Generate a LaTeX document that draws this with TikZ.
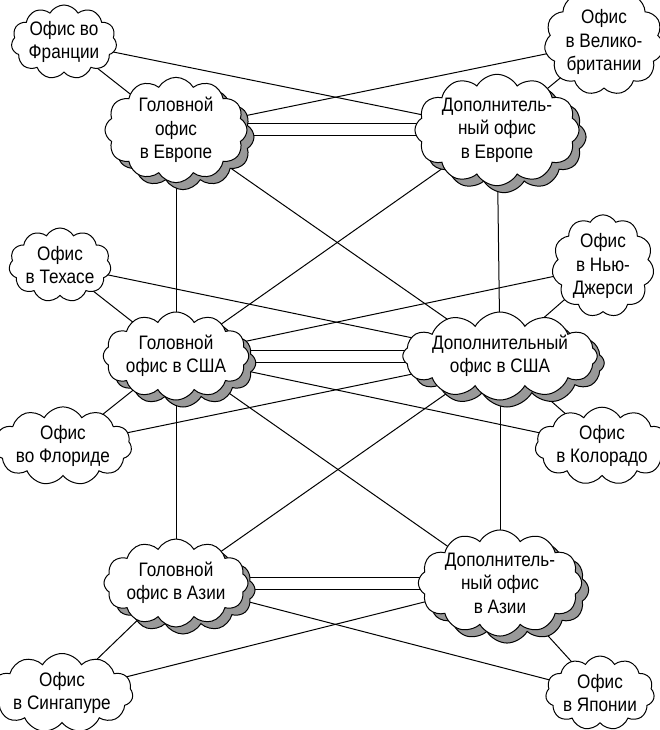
\documentclass[tikz,border=0pt]{standalone}
\usepackage{fontspec}
\setmainfont{Liberation Sans}[FakeStretch=0.88]
\usetikzlibrary{shapes.symbols, shadows, backgrounds}

\begin{document}
\begin{tikzpicture}[x=1pt, y=-1pt,
    office/.style={cloud, cloud puffs=11, cloud puff arc=120, cloud ignores aspect,
        draw, line width=1pt, fill=white, align=center, inner sep=0pt,
        minimum width=102pt, minimum height=74pt, font=\fontsize{19.5}{23.5}\selectfont},
    hq/.style={office, cloud puffs=12, minimum width=142pt, minimum height=88pt,
        copy shadow={shadow xshift=7pt, shadow yshift=-7pt, fill=black!40, draw=black, line width=1pt}},
    link/.style={line width=1pt}]

        \useasboundingbox (0,0) rectangle (659,730);

        %офисы в Европе
        \node[office] (fr) at (64,42) {Офис во\\Франции};
        \node[office, minimum height=80pt] (gb) at (604,42) {Офис\\в Велико-\\британии};
        \node[hq] (ge) at (176,130) {Головной\\офис\\в Европе};
        \node[hq] (de) at (497,130) {Дополнитель-\\ный офис\\в Европе};

        %офисы в США
        \node[office] (tx) at (60,265) {Офис\\в Техасе};
        \node[office, minimum height=80pt] (nj) at (603,266) {Офис\\в Нью-\\Джерси};
        \node[hq] (gu) at (176,356) {Головной\\офис в США};
        \node[hq, minimum width=148pt] (du) at (500,356) {Дополнительный\\офис в США};
        \node[office] (fl) at (63,446) {Офис\\во Флориде};
        \node[office] (co) at (602,446) {Офис\\в Колорадо};

        %офисы в Азии
        \node[hq] (ga) at (176,583) {Головной\\офис в Азии};
        \node[hq] (da) at (500,583) {Дополнитель-\\ный офис\\в Азии};
        \node[office] (sg) at (62,693) {Офис\\в Сингапуре};
        \node[office] (jp) at (600,693) {Офис\\в Японии};

        \begin{scope}[on background layer]
            %малые офисы к обоим главным
            \foreach \a/\b/\c in {fr/ge/de, gb/de/ge, tx/gu/du, nj/du/gu, fl/gu/du, co/du/gu, sg/ga/da, jp/da/ga}{
                \draw[link] (\a.center) -- (\b.center);
                \draw[link] (\a.center) -- (\c.center);
            }
            %двойные линии между главными
            \foreach \a/\b in {ge/de, gu/du, ga/da}
                \foreach \s in {-6,6}
                    \draw[link] ([yshift=\s pt]\a.center) -- ([yshift=\s pt]\b.center);
            %вертикали и диагонали
            \foreach \a/\b in {ge/gu, de/du, gu/ga, du/da, ge/du, de/gu, gu/da, du/ga}
                \draw[link] (\a.center) -- (\b.center);
        \end{scope}
    \end{tikzpicture}
\end{document}
